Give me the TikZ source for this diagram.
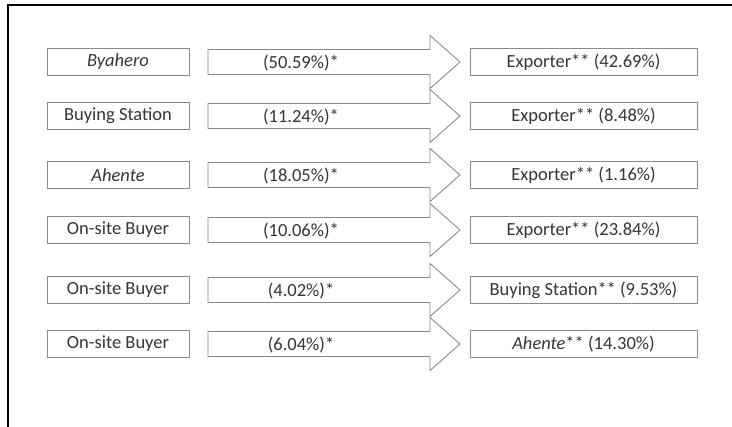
\documentclass[tikz,border=0pt]{standalone}
\usepackage{fontspec}
\setmainfont{Carlito}
\definecolor{boxgray}{HTML}{8A8A8A}
\definecolor{txt}{HTML}{363636}
\begin{document}
\begin{tikzpicture}[x=1pt,y=-1pt]
\tikzset{
  lab/.style={font=\fontsize{18.5}{20}\selectfont, text=txt, inner sep=0pt},
  src/.style={lab, draw=boxgray, line width=0.9pt, minimum width=142pt, minimum height=27pt},
  dst/.style={lab, draw=boxgray, line width=0.9pt, minimum width=227pt, minimum height=27pt},
  flowline/.style={draw=boxgray, line width=0.9pt, line join=miter},
  frame/.style={draw=black, line width=2.6pt}
}
\useasboundingbox (0,0) rectangle (732,427);
\fill[white] (0,0) rectangle (732,427);
\coordinate (tl) at (8,5);
\coordinate (tr) at (732,5);
\coordinate (bl) at (8,427);
\draw[frame] (tr) -- (tl) -- (bl);
\foreach \i/\y/\s/\p/\d in {
  1/62/{\textit{Byahero}}/{(50.59\%)*}/{Exporter** (42.69\%)},
  2/116/{Buying Station}/{(11.24\%)*}/{Exporter** (8.48\%)},
  3/175/{\textit{Ahente}}/{(18.05\%)*}/{Exporter** (1.16\%)},
  4/230/{On-site Buyer}/{(10.06\%)*}/{Exporter** (23.84\%)},
  5/290/{On-site Buyer}/{(4.02\%)*}/{Buying Station** (9.53\%)},
  6/344/{On-site Buyer}/{(6.04\%)*}/{\textit{Ahente}** (14.30\%)}}{
  \node[src] (s\i) at (118,\y) {\s};
  \node[dst] (d\i) at (583.5,\y) {\d};
  \coordinate (a\i) at (208,\y);
  \draw[flowline] ([shift={(0,-12.5)}]a\i) -- ([shift={(222,-12.5)}]a\i)
     -- ([shift={(222,-26.5)}]a\i) -- ([shift={(252,0)}]a\i)
     -- ([shift={(222,26.5)}]a\i) -- ([shift={(222,12.5)}]a\i)
     -- ([shift={(0,12.5)}]a\i) -- cycle;
  \node[lab] (p\i) at (301,\y+1.5) {\p};
}
\end{tikzpicture}
\end{document}
